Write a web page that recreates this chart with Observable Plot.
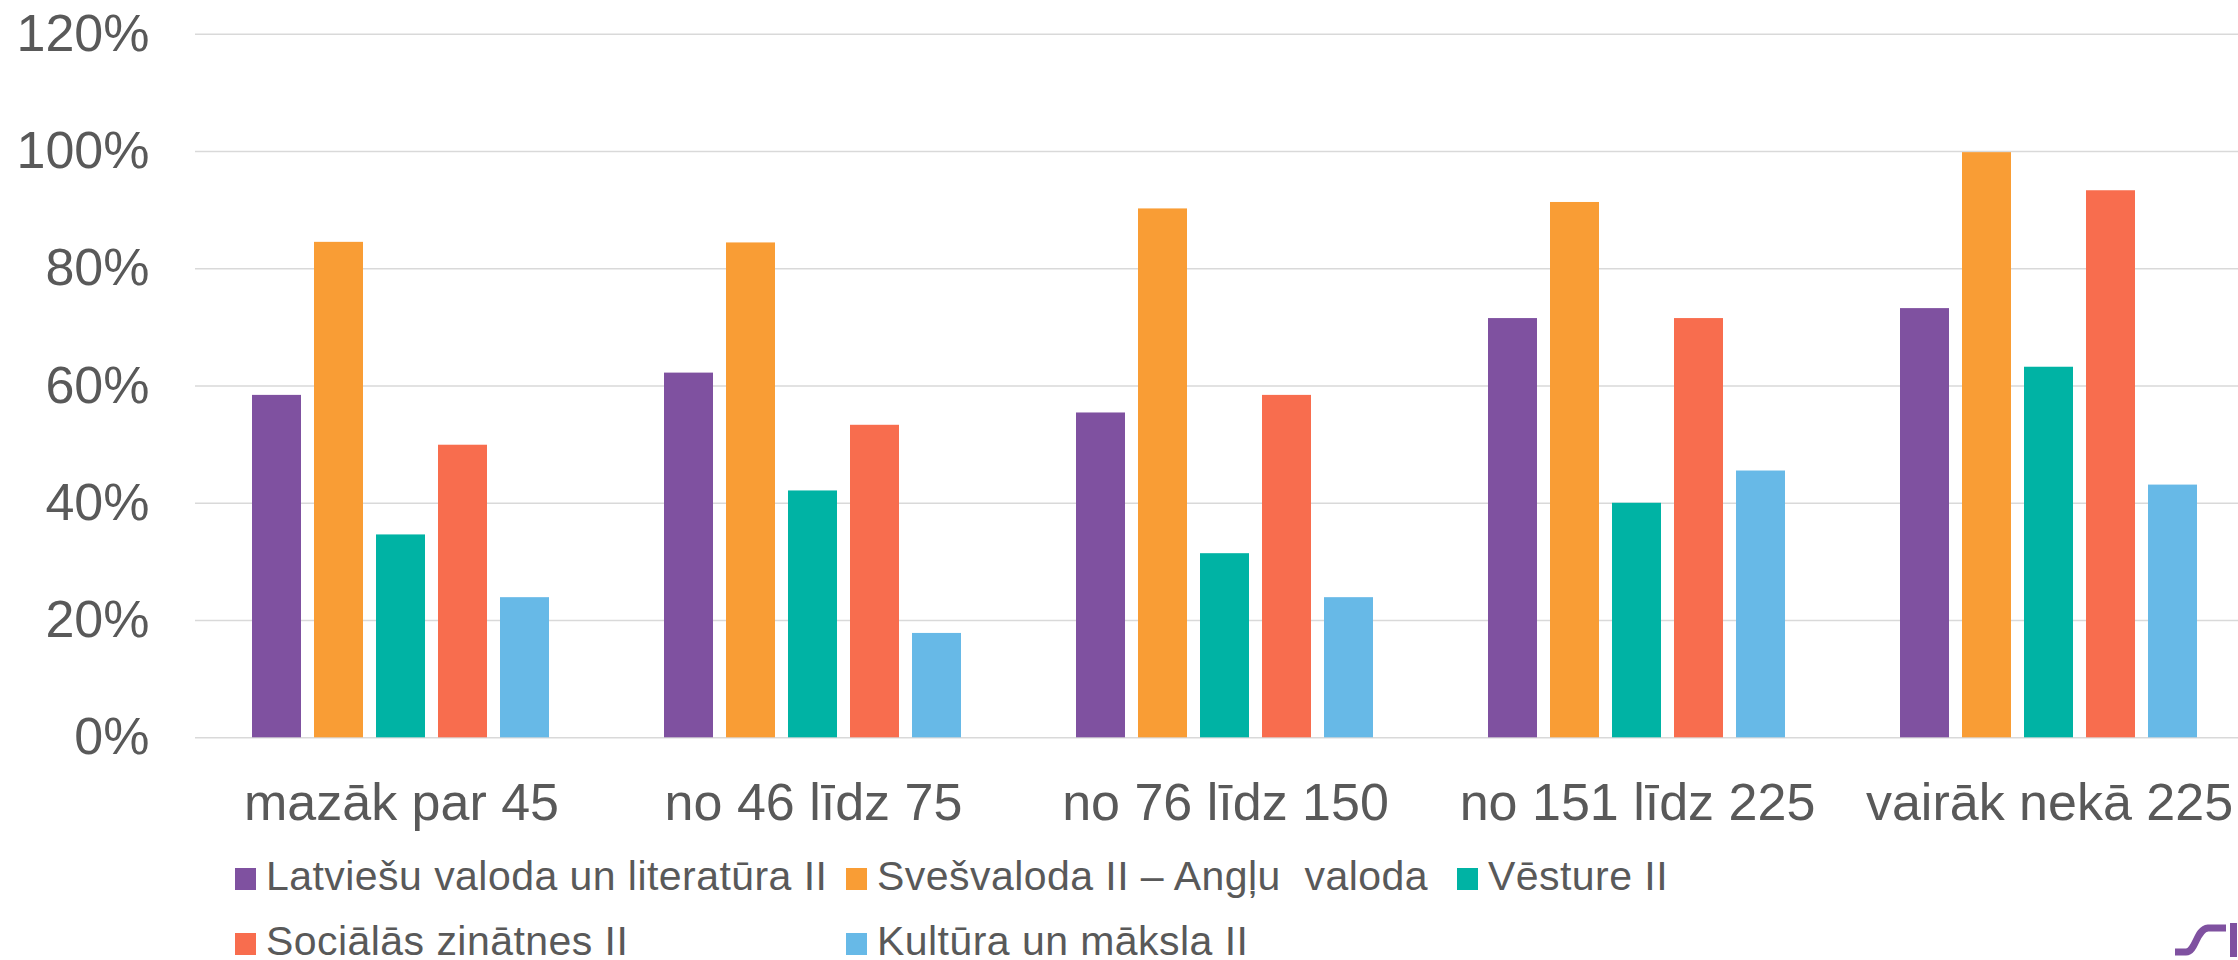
<!DOCTYPE html>
<html>
<head>
<meta charset="utf-8">
<script src="https://cdn.jsdelivr.net/npm/d3@7"></script>
<script src="https://cdn.jsdelivr.net/npm/@observablehq/plot@0.6"></script>
<style>
  html, body { margin: 0; padding: 0; background: #fff; overflow: hidden; }
  body { width: 2238px; height: 960px; position: relative; font-family: "Liberation Sans", Arial, sans-serif; }
  #legend { position: relative; top: -2px; padding-left: 235px; display: grid; grid-template-columns: 611px 611px 611px; grid-auto-rows: 65px; color: #595959; font-size: 41px; letter-spacing: 0.45px; }
  .item { display: flex; align-items: center; white-space: pre; }
  .item .lbl { line-height: 0.8; }
  .sw { width: 21px; height: 22px; margin-right: 10px; flex: none; position: relative; top: 2px; }
  #logo { position: absolute; left: 2160px; top: 915px; }
</style>
</head>
<body>
<div id="chart"></div>
<div id="legend"></div>
<svg id="logo" width="78" height="45" viewBox="0 0 78 45">
  <path d="M15 37 H26 C36 37 36 14 48 13 H66" fill="none" stroke="#7f51a0" stroke-width="7"/>
  <rect x="70" y="8" width="7" height="34" fill="#7f51a0"/>
</svg>
<script>
const groups = ["mazāk par 45", "no 46 līdz 75", "no 76 līdz 150", "no 151 līdz 225", "vairāk nekā 225"];
const series = ["Latviešu valoda un literatūra II", "Svešvaloda II – Angļu  valoda", "Vēsture II", "Sociālās zinātnes II", "Kultūra un māksla II"];
const latviesu   = [0.584, 0.622, 0.554, 0.715, 0.732];
const svesvaloda = [0.845, 0.844, 0.902, 0.913, 0.998];
const vesture    = [0.346, 0.421, 0.314, 0.400, 0.632];
const socialas   = [0.499, 0.533, 0.584, 0.715, 0.933];
const kultura    = [0.239, 0.178, 0.239, 0.455, 0.431];
const colors = ["#7f51a0", "#f99d35", "#00b3a4", "#f86d4e", "#67b9e7"];
const yTicks = [0, 0.2, 0.4, 0.6, 0.8, 1.0, 1.2];

const seriesValues = [latviesu, svesvaloda, vesture, socialas, kultura];
const data = groups.flatMap((g, i) => series.map((s, j) => ({group: g, series: s, value: seriesValues[j][i]})));

const chart = Plot.plot({
  width: 2238,
  height: 846,
  marginLeft: 195,
  marginRight: -17,
  marginTop: 33.7,
  marginBottom: 108.7,
  style: {fontFamily: "'Liberation Sans', Arial, sans-serif", color: "#595959", background: "white"},
  fx: {domain: groups, padding: 0, label: null},
  x: {domain: series, paddingInner: 0.206, paddingOuter: 0.873, axis: null},
  y: {domain: [0, 1.2], label: null},
  color: {domain: series, range: colors},
  marks: [
    Plot.gridY(yTicks, {stroke: "#d9d9d9", strokeOpacity: 1, strokeWidth: 1.5}),
    Plot.barY(data, {fx: "group", x: "series", y: "value", fill: "series"}),
    Plot.axisY(yTicks, {tickSize: 0, tickPadding: 46, fontSize: 52, tickFormat: d => `${Math.round(d * 100)}%`, label: null, fill: "#595959"}),
    Plot.axisFx({anchor: "bottom", tickSize: 0, tickPadding: 45, fontSize: 52, label: null, fill: "#595959"})
  ]
});
document.getElementById("chart").appendChild(chart);

const legend = document.getElementById("legend");
series.forEach((s, i) => {
  const item = document.createElement("div");
  item.className = "item";
  if (i === 3) item.style.gridColumn = "1";
  const sw = document.createElement("span");
  sw.className = "sw";
  sw.style.background = colors[i];
  const label = document.createElement("span");
  label.className = "lbl";
  label.textContent = s;
  item.appendChild(sw);
  item.appendChild(label);
  legend.appendChild(item);
});
</script>
</body>
</html>
